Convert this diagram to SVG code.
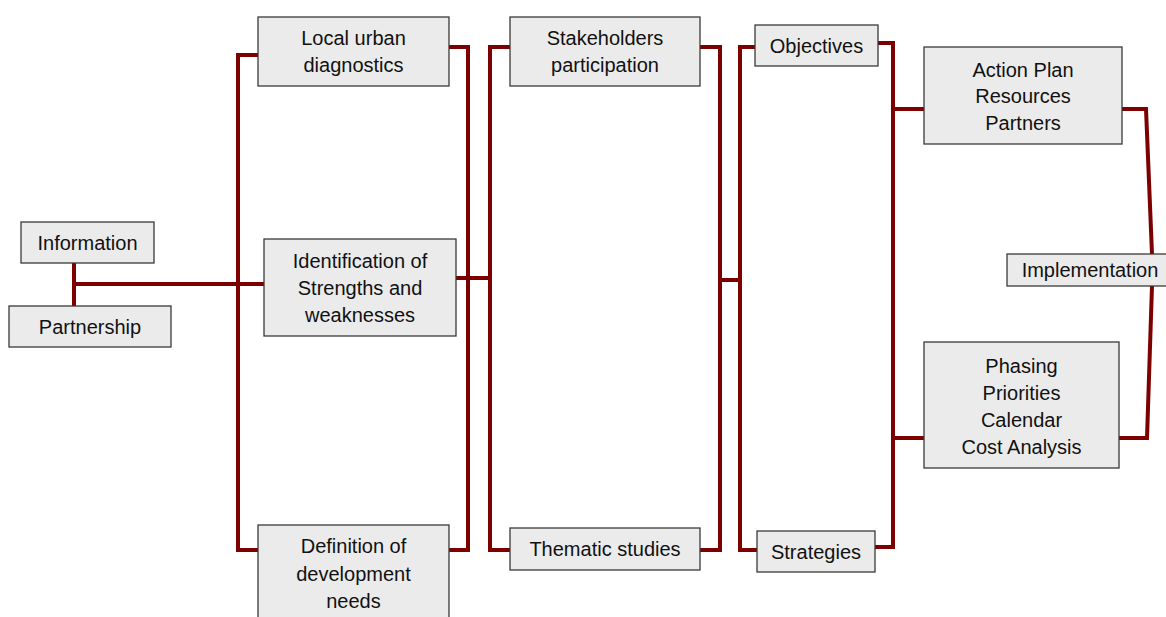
<svg xmlns="http://www.w3.org/2000/svg" width="1166" height="617" viewBox="0 0 1166 617">
<style>
.box{fill:#ebebeb;stroke:#3a3a3a;stroke-width:1.3}
.t{font-family:"Liberation Sans",Arial,sans-serif;font-size:20px;fill:#111;text-anchor:middle}
.c{fill:none;stroke:#7d0000;stroke-width:4;stroke-linejoin:miter;stroke-linecap:butt}
</style>
<rect width="1166" height="617" fill="#fff"/>
<g id="connectors">
<path class="c" d="M74,263 V306"/>
<path class="c" d="M74,284 H264"/>
<path class="c" d="M258,55 H238 V550 H258"/>
<path class="c" d="M449,47 H468 V550 H449"/>
<path class="c" d="M456,278 H490"/>
<path class="c" d="M510,47 H490 V550 H510"/>
<path class="c" d="M700,47 H720 V550 H700"/>
<path class="c" d="M720,280 H740"/>
<path class="c" d="M755,47 H740 V550 H757"/>
<path class="c" d="M878,43 H893 V547 H875"/>
<path class="c" d="M893,109 H924"/>
<path class="c" d="M893,438 H924"/>
<path class="c" d="M1122,109 H1146 L1152,254"/>
<path class="c" d="M1152,286 L1147,438 H1119"/>
</g>
<g id="information">
<rect class="box" x="21" y="222" width="133" height="41"/>
<text class="t" x="87.5" y="250">Information</text>
</g>
<g id="partnership">
<rect class="box" x="9" y="306" width="162" height="41"/>
<text class="t" x="90" y="334">Partnership</text>
</g>
<g id="local-urban">
<rect class="box" x="258" y="17" width="191" height="69"/>
<text class="t" x="353.5" y="45">Local urban</text>
<text class="t" x="353.5" y="72">diagnostics</text>
</g>
<g id="identification">
<rect class="box" x="264" y="239" width="192" height="97"/>
<text class="t" x="360" y="268">Identification of</text>
<text class="t" x="360" y="295">Strengths and</text>
<text class="t" x="360" y="322">weaknesses</text>
</g>
<g id="definition">
<rect class="box" x="258" y="525" width="191" height="100"/>
<text class="t" x="353.5" y="553">Definition of</text>
<text class="t" x="353.5" y="581">development</text>
<text class="t" x="353.5" y="608">needs</text>
</g>
<g id="stakeholders">
<rect class="box" x="510" y="17" width="190" height="69"/>
<text class="t" x="605" y="45">Stakeholders</text>
<text class="t" x="605" y="72">participation</text>
</g>
<g id="thematic">
<rect class="box" x="510" y="528" width="190" height="42"/>
<text class="t" x="605" y="556">Thematic studies</text>
</g>
<g id="objectives">
<rect class="box" x="755" y="25" width="123" height="41"/>
<text class="t" x="816.5" y="53">Objectives</text>
</g>
<g id="strategies">
<rect class="box" x="757" y="531" width="118" height="41"/>
<text class="t" x="816" y="559">Strategies</text>
</g>
<g id="action-plan">
<rect class="box" x="924" y="47" width="198" height="97"/>
<text class="t" x="1023" y="77">Action Plan</text>
<text class="t" x="1023" y="103">Resources</text>
<text class="t" x="1023" y="130">Partners</text>
</g>
<g id="phasing">
<rect class="box" x="924" y="342" width="195" height="126"/>
<text class="t" x="1021.5" y="373">Phasing</text>
<text class="t" x="1021.5" y="400">Priorities</text>
<text class="t" x="1021.5" y="427">Calendar</text>
<text class="t" x="1021.5" y="454">Cost Analysis</text>
</g>
<g id="implementation">
<rect class="box" x="1007" y="254" width="166" height="32"/>
<text class="t" x="1090" y="277">Implementation</text>
</g>
</svg>
